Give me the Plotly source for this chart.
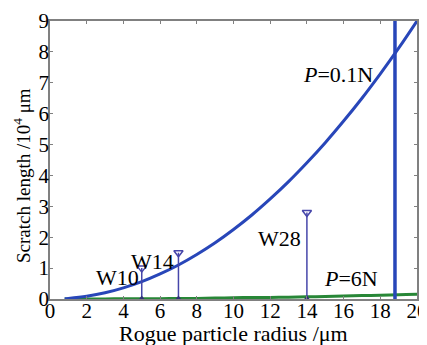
import plotly.graph_objects as go

# P = 0.1N curve
x_curve = [0.8, 1, 2, 3, 4, 5, 6, 7, 8, 9, 10, 11, 12, 13, 14, 15, 16, 17, 18, 19, 20]
y_01N = [0.01, 0.02, 0.09, 0.2, 0.36, 0.56, 0.81, 1.1, 1.44, 1.82, 2.25, 2.72, 3.24, 3.8, 4.41, 5.06, 5.76, 6.5, 7.29, 8.12, 9.0]
# P = 6N curve
y_6N = [0.0, 0.0, 0.0, 0.0, 0.01, 0.01, 0.01, 0.02, 0.02, 0.03, 0.04, 0.05, 0.05, 0.06, 0.07, 0.08, 0.1, 0.11, 0.12, 0.14, 0.15]

# wafer stems
stem_names = ["W10", "W14", "W28"]
stem_x = [5, 7, 14]
stem_top = [1.0, 1.5, 2.8]

limit_x = 18.8

blue = "rgb(40,70,185)"
green = "rgb(40,135,55)"
stem_col = "rgb(70,70,170)"

fig = go.Figure()
fig.add_trace(go.Scatter(x=x_curve, y=y_6N, mode="lines", line=dict(color=green, width=3, shape="spline")))
fig.add_trace(go.Scatter(x=x_curve, y=y_01N, mode="lines", line=dict(color=blue, width=3, shape="spline")))
fig.add_trace(go.Scatter(x=[limit_x, limit_x], y=[0, 9], mode="lines", line=dict(color=blue, width=3.5)))

for sx, st in zip(stem_x, stem_top):
    fig.add_trace(go.Scatter(x=[sx, sx], y=[0, st], mode="lines", line=dict(color=stem_col, width=1.5)))
    fig.add_trace(go.Scatter(x=[sx], y=[st], mode="markers",
                             marker=dict(symbol="triangle-down-open", size=8, color=stem_col, line=dict(width=1.5))))
    fig.add_trace(go.Scatter(x=[sx], y=[0], mode="markers",
                             marker=dict(symbol="triangle-up", size=7, color="rgb(50,50,120)")))

font = "Liberation Serif"
labels = [
    (3.7, 0.7, "W10"),
    (5.6, 1.23, "W14"),
    (12.5, 1.95, "W28"),
    (15.7, 7.27, "<i>P</i>=0.1N"),
    (16.4, 0.68, "<i>P</i>=6N"),
]
for lx, ly, t in labels:
    fig.add_annotation(x=lx, y=ly, text=t, showarrow=False, font=dict(family=font, size=22, color="black"))

# axis titles as paper annotations for exact placement
fig.add_annotation(xref="paper", yref="paper", x=0.5, y=0, yshift=-34, yanchor="middle",
                   text="Rogue particle radius /μm", showarrow=False,
                   font=dict(family=font, size=22, color="black"))
fig.add_annotation(xref="paper", yref="paper", x=0, y=0.5, xshift=-28, yshift=-16,
                   xanchor="center", yanchor="middle", textangle=-90,
                   text="Scratch length /10<sup>4</sup> μm", showarrow=False,
                   font=dict(family=font, size=19, color="black"))

axis_common = dict(showline=True, linecolor="#808080", linewidth=1.5, mirror="ticks",
                   ticks="inside", ticklen=3, tickcolor="#808080", showgrid=False, zeroline=False,
                   tickfont=dict(family=font, size=21, color="black"), automargin=False,
                   ticklabeloverflow="allow")
fig.update_xaxes(range=[0, 20], tickvals=list(range(0, 21, 2)), ticklabelstandoff=-8, **axis_common)
fig.update_yaxes(range=[0, 9], tickvals=list(range(0, 10)), ticklabelstandoff=-5, **axis_common)

# page body has an 8px default margin, so the figure is sized/offset to compensate
fig.update_layout(width=419, height=337, margin=dict(l=42, r=10, t=13, b=46, autoexpand=False),
                  showlegend=False, plot_bgcolor="white", paper_bgcolor="white")
fig.write_html("out.html")
